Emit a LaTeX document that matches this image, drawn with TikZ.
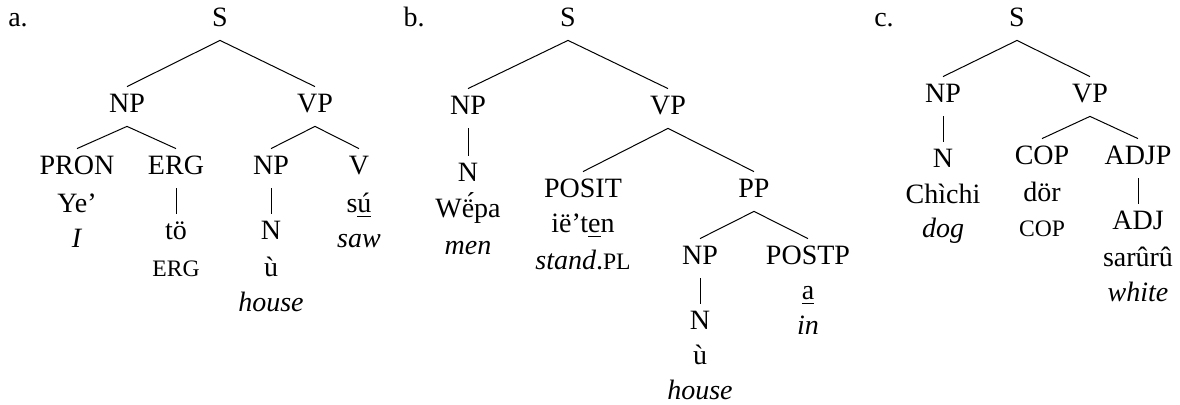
\documentclass[tikz,border=0pt]{standalone}
\usepackage{fontspec}
\setmainfont{Liberation Serif}
% reduced capitals standing in for small caps in the glosses
\newcommand{\glsc}[1]{{\fontsize{11.8pt}{12pt}\selectfont #1}}
\begin{document}
\begin{tikzpicture}[x=0.5pt,y=-0.5pt,
  font=\fontsize{14pt}{17pt}\selectfont,
  cat/.style={inner sep=0pt, text height=13pt, text depth=6.5pt, anchor=base},
  word/.style={inner sep=0pt, anchor=base},
  branch/.style={line width=0.5pt}]
\useasboundingbox (0,0) rectangle (1180,405);

% ---------- tree a ----------
\node[word] (alab) at (18,27) {a.};
\node[cat] (aS) at (220,27) {S};
\node[cat] (aNP) at (127,113) {NP};
\node[cat] (aVP) at (315,113) {VP};
\node[cat] (aPRON) at (77,175) {PRON};
\node[cat] (aERG) at (176,175) {ERG};
\node[cat] (aNPb) at (271,175) {NP};
\node[cat] (aV) at (359,175) {V};
\node[word] (aYe) at (77,213) {Ye’};
\node[word] (aI) at (77,248) {\textit{I}};
\node[cat] (ato) at (176,240) {tö};
\node[word] (aerg) at (176,277) {\glsc{ERG}};
\node[cat] (aN) at (271,240) {N};
\node[word] (au) at (271,277) {ù};
\node[word] (ahouse) at (271,312) {\textit{house}};
\node[word] (asu) at (359,213) {s\underline{ú}};
\node[word] (asaw) at (359,248) {\textit{saw}};

\draw[branch] (aS.south) -- (aNP.north);
\draw[branch] (aS.south) -- (aVP.north);
\draw[branch] (aNP.south) -- (aPRON.north);
\draw[branch] (aNP.south) -- (aERG.north);
\draw[branch] (aVP.south) -- (aNPb.north);
\draw[branch] (aVP.south) -- (aV.north);
\draw[branch] (aERG.south) -- (ato.north);
\draw[branch] (aNPb.south) -- (aN.north);

% ---------- tree b ----------
\node[word] (blab) at (414,27) {b.};
\node[cat] (bS) at (568,27) {S};
\node[cat] (bNP) at (468,115) {NP};
\node[cat] (bVP) at (668,115) {VP};
\node[cat] (bN) at (468,182) {N};
\node[word] (bwepa) at (468,218) {W\'{\"e}pa};
\node[word] (bmen) at (468,255) {\textit{men}};
\node[cat] (bPOSIT) at (583,198) {POSIT};
\node[word] (bieten) at (583,233) {ië’t\underline{e}n};
\node[word] (bstand) at (583,270) {\textit{stand}.\glsc{PL}};
\node[cat] (bPP) at (754,198) {PP};
\node[cat] (bNPb) at (700,265) {NP};
\node[cat] (bPOSTP) at (808,265) {POSTP};
\node[cat] (bNb) at (700,330) {N};
\node[word] (bu) at (700,365) {ù};
\node[word] (bhouse) at (700,400) {\textit{house}};
\node[word] (ba) at (808,300) {\underline{a}};
\node[word] (bin) at (808,335) {\textit{in}};

\draw[branch] (bS.south) -- (bNP.north);
\draw[branch] (bS.south) -- (bVP.north);
\draw[branch] (bNP.south) -- (bN.north);
\draw[branch] (bVP.south) -- (bPOSIT.north);
\draw[branch] (bVP.south) -- (bPP.north);
\draw[branch] (bPP.south) -- (bNPb.north);
\draw[branch] (bPP.south) -- (bPOSTP.north);
\draw[branch] (bNPb.south) -- (bNb.north);

% ---------- tree c ----------
\node[word] (clab) at (884,27) {c.};
\node[cat] (cS) at (1017,27) {S};
\node[cat] (cNP) at (943,103) {NP};
\node[cat] (cVP) at (1090,103) {VP};
\node[cat] (cN) at (943,168) {N};
\node[word] (cchichi) at (943,204) {Chìchi};
\node[word] (cdog) at (943,238) {\textit{dog}};
\node[cat] (cCOP) at (1042,165) {COP};
\node[word] (cdor) at (1042,202) {dör};
\node[word] (ccop) at (1042,237) {\glsc{COP}};
\node[cat] (cADJP) at (1138,165) {ADJP};
\node[cat] (cADJ) at (1138,230) {ADJ};
\node[word] (csaruru) at (1138,267) {sarûrû};
\node[word] (cwhite) at (1138,302) {\textit{white}};

\draw[branch] (cS.south) -- (cNP.north);
\draw[branch] (cS.south) -- (cVP.north);
\draw[branch] (cNP.south) -- (cN.north);
\draw[branch] (cVP.south) -- (cCOP.north);
\draw[branch] (cVP.south) -- (cADJP.north);
\draw[branch] (cADJP.south) -- (cADJ.north);
\end{tikzpicture}
\end{document}
